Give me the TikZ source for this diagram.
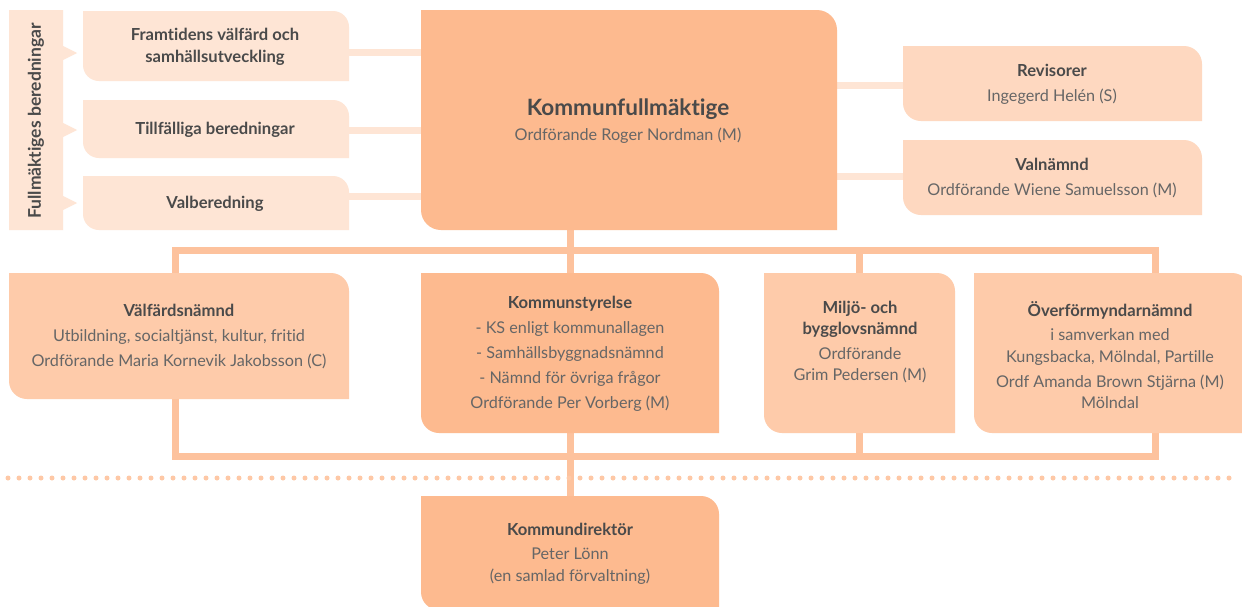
\documentclass[tikz,border=0pt]{standalone}
\usepackage{fontspec}
\setmainfont{Lato}[Ligatures=NoCommon]
\usetikzlibrary{fit}
\definecolor{cA}{HTML}{FDBA8F}
\definecolor{cB}{HTML}{FECBAA}
\definecolor{cC}{HTML}{FED8C0}
\definecolor{cD}{HTML}{FEE5D5}
\definecolor{cLine}{HTML}{FDC29D}
\definecolor{cDot}{HTML}{FEC8A6}
\definecolor{tBold}{HTML}{4A4A4A}
\definecolor{tReg}{HTML}{666666}
\pgfdeclarelayer{background}
\pgfsetlayers{background,main}
\def\R{18}
% name, x1, y1, x2, y2, fill colour
\newcommand\orgbox[6]{%
  \fill[#6] (#2,#3) -- ({#4-\R},#3) .. controls ({#4-0.448*\R},#3) and (#4,{#3+0.448*\R}) .. (#4,{#3+\R})
    -- (#4,#5) -- ({#2+\R},#5) .. controls ({#2+0.448*\R},#5) and (#2,{#5-0.448*\R}) .. (#2,{#5-\R}) -- cycle;
  \node[fit={(#2,#3) (#4,#5)}, inner sep=0pt] (#1) {};}
\newcommand\hd[1]{{\fontsize{16.6}{25}\selectfont\bfseries\color{tBold}#1}}
\begin{document}
\begin{tikzpicture}[x=1pt,y=-1pt,
  txt/.style={align=center, font=\fontsize{16.2}{25}\selectfont, text=tReg, inner sep=0pt},
  frame/.style={draw=cLine, line width=7pt, line join=miter},
  lightlink/.style={draw=cD, line width=7pt},
  dots/.style={draw=cDot, line width=5pt, line cap=round, dash pattern=on 0pt off 11pt}]
\useasboundingbox (0,0) rectangle (1242,606);
% label column
\def\R{0}
\orgbox{lbl}{9}{10}{63}{230}{cD}
\def\R{16}
\orgbox{fram}{83}{11}{349}{81}{cD}
\orgbox{till}{83}{100}{349}{158}{cD}
\orgbox{valb}{83}{176}{349}{230}{cD}
\def\R{20}
\orgbox{kf}{421}{10}{837}{230}{cA}
\def\R{18}
\orgbox{rev}{903}{46}{1202}{121}{cC}
\orgbox{valn}{903}{140}{1202}{215}{cC}
\orgbox{valf}{9}{273}{349}{399}{cB}
\orgbox{ks}{421}{273}{719}{433}{cA}
\orgbox{milj}{764}{273}{955}{433}{cB}
\orgbox{over}{974}{273}{1250}{433}{cB}
\orgbox{kd}{421}{496}{719}{610}{cA}
% pointers of the label column
\fill[cD] (lbl.east |- 0,46) -- (77,53) -- (lbl.east |- 0,60) -- cycle;
\fill[cD] (lbl.east |- 0,123) -- (77,130) -- (lbl.east |- 0,137) -- cycle;
\fill[cD] (lbl.east |- 0,196) -- (77,203) -- (lbl.east |- 0,210) -- cycle;
% connectors
\coordinate (fnw) at (175,250);
\coordinate (fse) at (1155,456);
\coordinate (dl) at (8,478);
\coordinate (dr) at (1238,478);
\begin{pgfonlayer}{background}
  \fill[white] (0,0) rectangle (1242,606);
  \path[frame] (fnw) rectangle (fse);
  \path[frame] (milj.center |- fnw) -- (milj.center |- fse);
  \path[frame] (ks.center |- kf.south) -- (kd.north);
  \path[lightlink] (fram.east |- 0,52) -- (kf.west |- 0,52);
  \path[lightlink] (till.east |- 0,130) -- (kf.west |- 0,130);
  \path[lightlink] (valb.east |- 0,196) -- (kf.west |- 0,196);
  \path[lightlink] (kf.east |- 0,85) -- (rev.west |- 0,85);
  \path[lightlink] (kf.east |- 0,176) -- (valn.west |- 0,176);
\end{pgfonlayer}
\path[dots] (dl) -- (dr);
% texts
\node[txt, rotate=90] (lbl-t) at (36,121) {{\fontsize{17.5}{25}\selectfont\bfseries\color{tBold}Fullmäktiges beredningar}};
\node[txt] (fram-t) at (215,47) {\hd{Framtidens välfärd och}\\[-3pt]\hd{samhällsutveckling}};
\node[txt] (till-t) at (215,130) {\hd{Tillfälliga beredningar}};
\node[txt] (valb-t) at (215,204) {\hd{Valberedning}};
\node[txt] (kf-t) at (628,121) {{\fontsize{22.5}{27}\selectfont\bfseries\color{tBold}Kommunfullmäktige}\\Ordförande Roger Nordman (M)};
\node[txt] (rev-t) at (1052,84) {\hd{Revisorer}\\Ingegerd Helén (S)};
\node[txt] (valn-t) at (1052,178) {\hd{Valnämnd}\\Ordförande Wiene Samuelsson (M)};
\node[txt] (valf-t) at (179,337) {\hd{Välfärdsnämnd}\\Utbildning, socialtjänst, kultur, fritid\\Ordförande Maria Kornevik Jakobsson (C)};
\node[txt] (ks-t) at (570,354) {\hd{Kommunstyrelse}\\- KS enligt kommunallagen\\- Samhällsbyggnadsnämnd\\- Nämnd för övriga frågor\\Ordförande Per Vorberg (M)};
\node[txt] (milj-t) at (860,342) {\hd{Miljö- och}\\[-4pt]\hd{bygglovsnämnd}\\Ordförande\\[-4pt]Grim Pedersen (M)};
\node[txt] (over-t) at (1110,355) {\hd{Överförmyndarnämnd}\\[-1pt]i samverkan med\\[-3pt]Kungsbacka, Mölndal, Partille\\Ordf Amanda Brown Stjärna (M)\\[-4pt]Mölndal};
\node[txt] (kd-t) at (570,554) {\hd{Kommundirektör}\\[-1pt]Peter Lönn\\[-3pt](en samlad förvaltning)};
\end{tikzpicture}
\end{document}
